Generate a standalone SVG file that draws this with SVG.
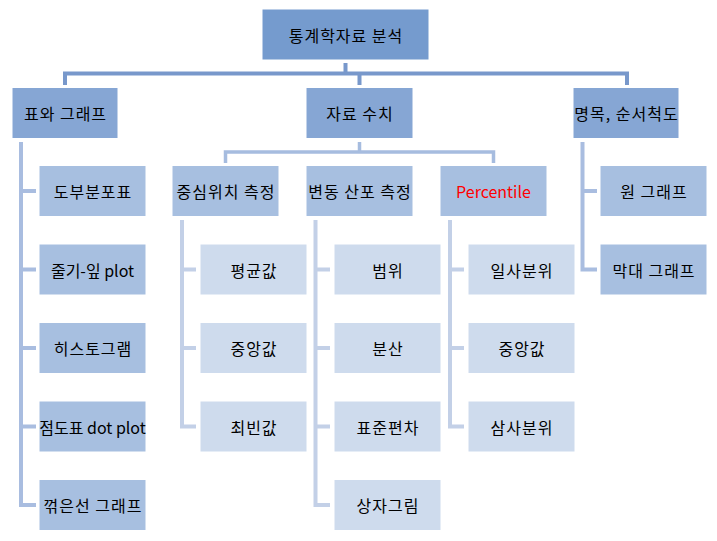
<svg xmlns="http://www.w3.org/2000/svg" width="717" height="541" viewBox="0 0 717 541">
<style>
rect{stroke:#ffffff;stroke-width:1}
.r0{fill:#759BCE}
.r1{fill:#86A6D4}
.r2{fill:#A7BFE0}
.r3{fill:#CEDBED}
text{font-family:"Noto Sans CJK KR","Noto Sans",sans-serif;font-size:16px;letter-spacing:1px;fill:#000;text-anchor:middle;dominant-baseline:central}
.lat{letter-spacing:0}
.red{fill:#FF0000;letter-spacing:0}
.c0{fill:none;stroke:#7898CB;stroke-width:4}
.c1{fill:none;stroke:#A6BCDF;stroke-width:3.5}
.c2{fill:none;stroke:#A9BDE0;stroke-width:4}
.c3{fill:none;stroke:#C3D0E7;stroke-width:4}
</style>
<rect width="717" height="541" fill="#ffffff" style="stroke:none"/>
<g id="connectors">
<path class="c0" d="M345.5 63V73.5M65 85V73.5H627V85M359.5 73.5V85"/>
<path class="c1" d="M359.5 142V152M225.5 163V152H493.5V163"/>
<path class="c2" d="M21 142V505H36M21 191H36M21 269.5H36M21 348H36M21 426.5H36"/>
<path class="c2" d="M582.5 142V269.5H597M582.5 191H597"/>
<path class="c3" d="M182 220V426.5H196M182 269.5H196M182 348H196"/>
<path class="c3" d="M315.5 220V505H330M315.5 269.5H330M315.5 348H330M315.5 426.5H330"/>
<path class="c3" d="M450 220V426.5H464M450 269.5H464M450 348H464"/>
</g>
<g id="root"><rect class="r0" x="262" y="9" width="167" height="51"/><text x="346" y="34.5">통계학자료 분석</text></g>
<g id="n-table-graph"><rect class="r1" x="12" y="87.5" width="106" height="51"/><text x="65.5" y="113">표와 그래프</text></g>
<g id="n-data-values"><rect class="r1" x="306" y="87.5" width="107" height="51"/><text x="360" y="113">자료 수치</text></g>
<g id="n-nominal"><rect class="r1" x="573" y="87.5" width="106" height="51"/><text x="626.5" y="113">명목, 순서척도</text></g>

<g id="n-freq"><rect class="r2" x="39" y="165.5" width="107" height="51"/><text x="93" y="191">도부분포표</text></g>
<g id="n-stem"><rect class="r2" x="39" y="244" width="107" height="51"/><text class="lat" x="92.5" y="269.5">줄기-잎 plot</text></g>
<g id="n-hist"><rect class="r2" x="39" y="322.5" width="107" height="51"/><text x="93" y="348">히스토그램</text></g>
<g id="n-dot"><rect class="r2" x="39" y="401" width="107" height="51"/><text class="lat" x="92.5" y="426.5">점도표 dot plot</text></g>
<g id="n-line"><rect class="r2" x="39" y="479.5" width="107" height="51"/><text x="93" y="505">꺾은선 그래프</text></g>

<g id="n-central"><rect class="r2" x="172" y="165.5" width="107" height="51"/><text x="226" y="191">중심위치 측정</text></g>
<g id="n-spread"><rect class="r2" x="306" y="165.5" width="107" height="51"/><text x="360" y="191">변동 산포 측정</text></g>
<g id="n-percentile"><rect class="r2" x="440" y="165.5" width="107" height="51"/><text class="red" x="493.5" y="191">Percentile</text></g>

<g id="n-pie"><rect class="r2" x="600" y="165.5" width="107" height="51"/><text x="654" y="191">원 그래프</text></g>
<g id="n-bar"><rect class="r2" x="600" y="244" width="107" height="51"/><text x="654" y="269.5">막대 그래프</text></g>

<g id="n-mean"><rect class="r3" x="200" y="244" width="107" height="51"/><text x="254" y="269.5">평균값</text></g>
<g id="n-median1"><rect class="r3" x="200" y="322.5" width="107" height="51"/><text x="254" y="348">중앙값</text></g>
<g id="n-mode"><rect class="r3" x="200" y="401" width="107" height="51"/><text x="254" y="426.5">최빈값</text></g>

<g id="n-range"><rect class="r3" x="334" y="244" width="107" height="51"/><text x="388" y="269.5">범위</text></g>
<g id="n-var"><rect class="r3" x="334" y="322.5" width="107" height="51"/><text x="388" y="348">분산</text></g>
<g id="n-sd"><rect class="r3" x="334" y="401" width="107" height="51"/><text x="388" y="426.5">표준편차</text></g>
<g id="n-box"><rect class="r3" x="334" y="479.5" width="107" height="51"/><text x="388" y="505">상자그림</text></g>

<g id="n-q1"><rect class="r3" x="468" y="244" width="107" height="51"/><text x="522" y="269.5">일사분위</text></g>
<g id="n-median2"><rect class="r3" x="468" y="322.5" width="107" height="51"/><text x="522" y="348">중앙값</text></g>
<g id="n-q3"><rect class="r3" x="468" y="401" width="107" height="51"/><text x="522" y="426.5">삼사분위</text></g>
</svg>
